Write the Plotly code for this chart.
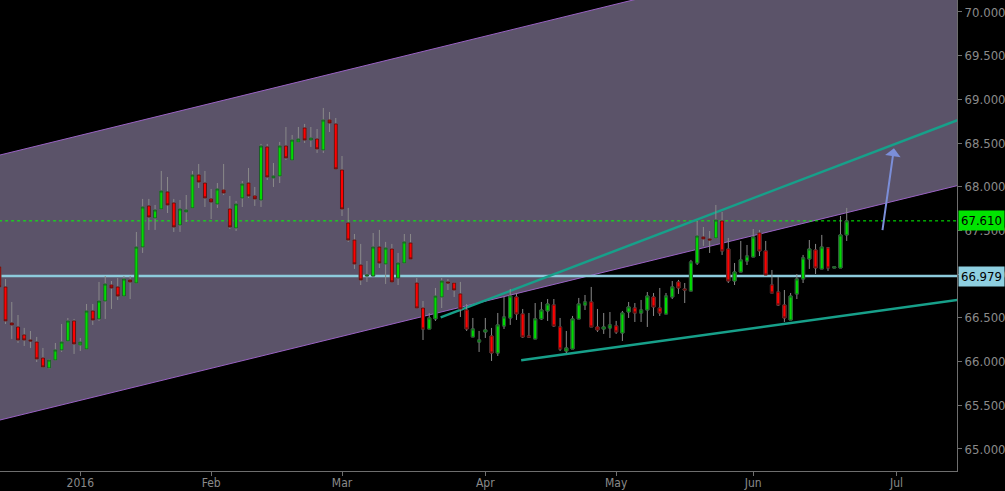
import pandas as pd
import numpy as np
import plotly.graph_objects as go

# ---- candle data (daily, weekdays from 2015-12-15) ----
start_date = "2015-12-15"
opens = [67.083, 66.854, 66.442, 66.396, 66.305, 66.247, 66.224, 66.041, 65.927, 66.018,
         66.133, 66.236, 66.465, 66.190, 66.144, 66.579, 66.488, 66.693, 66.876, 66.854,
         66.750, 66.934, 66.899, 67.311, 67.781, 67.643, 67.746, 67.941, 67.815, 67.563,
         67.712, 67.758, 68.135, 68.043, 67.861, 67.803, 67.963, 67.746, 67.529, 67.872,
         68.043, 67.895, 67.849, 68.456, 68.101, 68.124, 68.467, 68.306, 68.513, 68.673,
         68.535, 68.547, 68.421, 68.764, 68.719, 68.192, 67.586, 67.391, 67.105, 66.979,
         66.979, 67.311, 67.117, 67.288, 66.956, 67.128, 67.357, 66.899, 66.613, 66.373,
         66.488, 66.739, 66.911, 66.899, 66.774, 66.590, 66.282, 66.224, 66.339, 66.293,
         66.098, 66.408, 66.499, 66.739, 66.545, 66.293, 66.259, 66.488, 66.579, 66.648,
         66.396, 66.121, 66.144, 66.488, 66.648, 66.682, 66.396, 66.373, 66.385, 66.408,
         66.327, 66.567, 66.613, 66.556, 66.590, 66.739, 66.613, 66.545, 66.739, 66.911,
         66.831, 66.808, 67.128, 67.426, 67.403, 67.414, 67.609, 67.288, 66.922, 67.025,
         67.151, 67.197, 67.471, 67.266, 66.876, 66.796, 66.648, 66.476, 66.774, 66.945,
         67.174, 67.277, 67.060, 67.300, 67.071, 67.071, 67.449]
highs = [67.140, 66.945, 66.682, 66.533, 66.385, 66.350, 66.282, 66.156, 66.030, 66.213,
         66.430, 66.499, 66.488, 66.270, 66.659, 66.659, 66.911, 66.979, 66.922, 66.956,
         66.979, 66.979, 67.483, 67.861, 67.861, 67.792, 68.181, 68.112, 67.861, 67.849,
         67.906, 68.181, 68.261, 68.181, 67.975, 68.043, 68.261, 67.895, 67.838, 68.066,
         68.215, 67.998, 68.490, 68.490, 68.272, 68.513, 68.684, 68.593, 68.684, 68.719,
         68.684, 68.661, 68.902, 68.856, 68.787, 68.352, 67.758, 67.460, 67.346, 67.151,
         67.471, 67.506, 67.369, 67.346, 67.243, 67.460, 67.460, 66.956, 66.693, 66.556,
         66.842, 66.956, 66.945, 66.911, 66.911, 66.659, 66.499, 66.350, 66.499, 66.385,
         66.556, 66.739, 66.831, 66.785, 66.602, 66.556, 66.670, 66.682, 66.716, 66.716,
         66.499, 66.350, 66.522, 66.728, 66.762, 66.854, 66.602, 66.556, 66.567, 66.465,
         66.579, 66.682, 66.670, 66.705, 66.796, 66.785, 66.842, 66.785, 66.922, 66.934,
         66.899, 67.163, 67.609, 67.540, 67.494, 67.792, 67.712, 67.414, 67.128, 67.380,
         67.334, 67.517, 67.506, 67.380, 67.048, 66.968, 66.819, 66.785, 67.002, 67.220,
         67.391, 67.346, 67.449, 67.311, 67.083, 67.666, 67.758]
lows = [66.796, 66.430, 66.259, 66.213, 66.179, 66.156, 65.995, 65.927, 65.915, 66.018,
        66.110, 66.236, 66.087, 66.121, 66.144, 66.419, 66.465, 66.488, 66.602, 66.705,
        66.750, 66.716, 66.899, 67.243, 67.506, 67.506, 67.746, 67.700, 67.483, 67.483,
        67.597, 67.758, 67.986, 67.769, 67.631, 67.758, 67.906, 67.517, 67.494, 67.769,
        67.872, 67.781, 67.769, 68.078, 67.998, 68.043, 68.306, 68.306, 68.513, 68.501,
        68.456, 68.387, 68.387, 68.627, 68.204, 67.666, 67.368, 67.060, 66.876, 66.911,
        66.979, 67.071, 66.888, 66.911, 66.876, 67.128, 67.174, 66.613, 66.247, 66.373,
        66.465, 66.613, 66.819, 66.739, 66.510, 66.350, 66.282, 66.110, 66.270, 66.007,
        66.064, 66.373, 66.419, 66.476, 66.270, 66.270, 66.259, 66.476, 66.465, 66.396,
        66.121, 66.098, 66.144, 66.488, 66.590, 66.396, 66.339, 66.316, 66.270, 66.316,
        66.236, 66.499, 66.453, 66.453, 66.396, 66.522, 66.522, 66.545, 66.716, 66.774,
        66.670, 66.808, 67.105, 67.323, 67.243, 67.414, 67.220, 66.899, 66.876, 67.025,
        67.105, 67.197, 67.208, 66.991, 66.785, 66.636, 66.453, 66.476, 66.716, 66.899,
        67.060, 67.002, 67.060, 67.037, 67.071, 67.071, 67.380]
closes = [66.854, 66.465, 66.419, 66.247, 66.247, 66.236, 66.030, 65.938, 66.018, 66.133,
          66.224, 66.465, 66.202, 66.224, 66.579, 66.476, 66.693, 66.888, 66.842, 66.750,
          66.945, 66.911, 67.311, 67.769, 67.654, 67.735, 67.952, 67.792, 67.540, 67.746,
          67.735, 68.135, 68.055, 67.872, 67.826, 67.975, 67.929, 67.540, 67.803, 68.032,
          67.895, 67.861, 68.467, 68.112, 68.124, 68.467, 68.330, 68.535, 68.547, 68.535,
          68.558, 68.433, 68.764, 68.730, 68.204, 67.746, 67.391, 67.117, 66.934, 66.991,
          67.311, 67.128, 67.300, 66.911, 67.128, 67.369, 67.174, 66.613, 66.373, 66.499,
          66.750, 66.922, 66.899, 66.819, 66.602, 66.373, 66.373, 66.247, 66.362, 66.098,
          66.419, 66.510, 66.750, 66.545, 66.282, 66.282, 66.488, 66.590, 66.659, 66.408,
          66.144, 66.156, 66.488, 66.659, 66.682, 66.396, 66.362, 66.396, 66.419, 66.339,
          66.556, 66.625, 66.556, 66.590, 66.750, 66.625, 66.556, 66.750, 66.854, 66.842,
          66.819, 67.140, 67.437, 67.403, 67.391, 67.620, 67.266, 66.922, 67.025, 67.163,
          67.208, 67.426, 67.266, 66.991, 66.785, 66.648, 66.499, 66.750, 66.945, 67.186,
          67.288, 67.071, 67.311, 67.071, 67.083, 67.449, 67.609]

# ---- drawn studies ----
band_x = ["2015-12-14", "2016-07-19"]
band_upper = [68.344, 71.102]
band_lower = [65.312, 68.070]
trend1_x = ["2016-03-22 20:00", "2016-07-18"]
trend1_y = [66.505, 68.823]
trend2_x = ["2016-04-08 18:00", "2016-07-18"]
trend2_y = [66.015, 66.726]
last_price = 67.610
support_level = 66.979
hline_x = ["2015-12-14", "2016-07-19"]
arrow_tail = ("2016-06-29 17:00", 67.486)
arrow_head = ("2016-07-01 14:00", 68.440)

# ---- axes ----
x_range = ["2015-12-15 02:40", "2016-07-15 16:50"]
y_range = [64.748, 70.137]
tick_dates = ["2016-01-01", "2016-02-01", "2016-03-01", "2016-04-01",
              "2016-05-02", "2016-06-01", "2016-07-04"]
tick_text = ["2016", "Feb", "Mar", "Apr", "May", "Jun", "Jul"]

dates = pd.bdate_range(start_date, periods=len(opens))
o = np.array(opens); c = np.array(closes)
body_hi = np.maximum(o, c)
body_lo = np.minimum(o, c)

FONT = "Liberation Sans Narrow, Arial Narrow, DejaVu Sans Condensed, sans-serif"
AX = "#6e6e6e"


def pd_(d):
    return d.replace(" ", "_")


shapes = []
band_path = (f"M {pd_(band_x[0])},{band_upper[0]} L {pd_(band_x[1])},{band_upper[1]} "
             f"L {pd_(band_x[1])},{band_lower[1]} L {pd_(band_x[0])},{band_lower[0]} Z")
shapes.append(dict(type="path", xref="x", yref="y", path=band_path, fillcolor="#5b5369",
                   line=dict(width=0), layer="below"))
for yy in (band_upper, band_lower):
    shapes.append(dict(type="line", xref="x", yref="y", x0=band_x[0], x1=band_x[1],
                       y0=yy[0], y1=yy[1], line=dict(color="#9a62c4", width=1), layer="below"))
shapes.append(dict(type="line", xref="x", yref="y", x0=hline_x[0], x1=hline_x[1],
                   y0=support_level, y1=support_level, line=dict(color="#8dcbdc", width=2.5),
                   layer="below"))
shapes.append(dict(type="line", xref="x", yref="y", x0=hline_x[0], x1=hline_x[1],
                   y0=last_price, y1=last_price, line=dict(color="#00ff00", width=1, dash="dot"),
                   layer="below"))
for tx, ty in ((trend1_x, trend1_y), (trend2_x, trend2_y)):
    shapes.append(dict(type="line", xref="x", yref="y", x0=tx[0], x1=tx[1], y0=ty[0], y1=ty[1],
                       line=dict(color="#17a08a", width=2.5), layer="below"))

fig = go.Figure()
fig.add_trace(go.Candlestick(
    x=dates, open=opens, high=highs, low=lows, close=closes,
    increasing=dict(line=dict(color="#8a8a8a", width=1), fillcolor="#8a8a8a"),
    decreasing=dict(line=dict(color="#8a8a8a", width=1), fillcolor="#8a8a8a"),
    hoverinfo="skip", showlegend=False))
fig.add_trace(go.Candlestick(
    x=dates, open=opens, high=body_hi, low=body_lo, close=closes,
    increasing=dict(line=dict(color="#1e5a2a", width=1), fillcolor="#00dc00"),
    decreasing=dict(line=dict(color="#5a1212", width=1), fillcolor="#ff0000"),
    showlegend=False))

fig.add_annotation(x=arrow_head[0], y=arrow_head[1], ax=arrow_tail[0], ay=arrow_tail[1],
                   xref="x", yref="y", axref="x", ayref="y", text="", showarrow=True,
                   arrowhead=1, arrowsize=1.3, arrowwidth=2, arrowcolor="#7b8ed8")
for val, bg in [(last_price, "#00e400"), (support_level, "#8ecfe0")]:
    fig.add_annotation(x=1, xref="paper", y=val, yref="y", xanchor="left", yanchor="middle",
                       xshift=1, text=f"{val:.3f}", showarrow=False, bgcolor=bg,
                       borderpad=2, font=dict(family=FONT, size=13, color="#000000"))

fig.update_layout(
    width=1005, height=491, margin=dict(l=0, r=48, t=0, b=20),
    paper_bgcolor="#000000", plot_bgcolor="#000000",
    showlegend=False, font=dict(family=FONT, size=13, color="#8a8a8a"),
    shapes=shapes,
    xaxis=dict(type="date", range=x_range, rangebreaks=[dict(bounds=["sat", "mon"])],
               tickvals=tick_dates, ticktext=tick_text, showgrid=False, zeroline=False,
               showline=True, linecolor=AX, ticks="outside", ticklen=4, tickcolor=AX,
               ticklabelstandoff=-3,
               tickfont=dict(family=FONT, size=12, color="#8a8a8a"), automargin=False,
               rangeslider=dict(visible=False), fixedrange=True),
    yaxis=dict(side="right", range=y_range, dtick=0.5, tick0=65, tickformat=".3f",
               showgrid=False, zeroline=False, showline=True, linecolor=AX,
               ticks="outside", ticklen=4, tickcolor=AX, automargin=False,
               tickfont=dict(family=FONT, size=13, color="#8a8a8a"), fixedrange=True),
)

fig.write_html("out.html", config={"displayModeBar": False},
               post_script="document.body.style.margin='0';document.body.style.overflow='hidden';")
